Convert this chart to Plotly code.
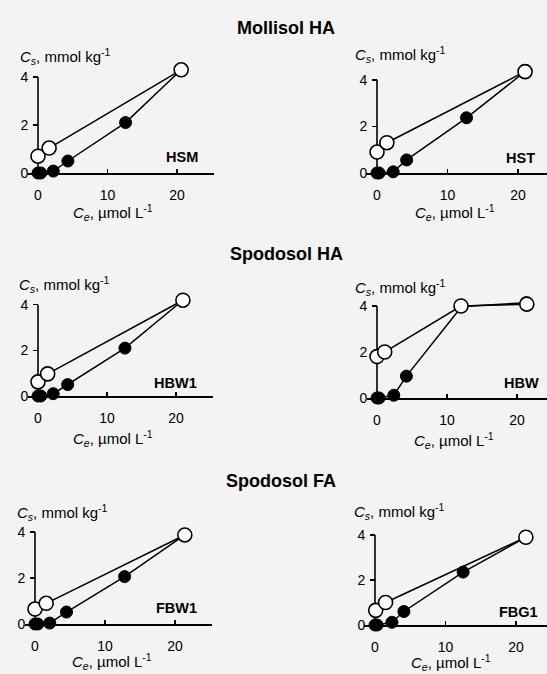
import plotly.graph_objects as go

W, H = 547, 674

# ---------------- data ----------------
group_titles = ["Mollisol HA", "Spodosol HA", "Spodosol FA"]
panel_names = ["HSM", "HST", "HBW1", "HBW", "FBW1", "FBG1"]

x_ticks = [0, 10, 20]
y_ticks = [0, 2, 4]

# solid circles (line continues to the last, shared point)
HSM_solid_x = [0, 0.4, 2.2, 4.3, 12.6, 20.6]
HSM_solid_y = [0, 0, 0.08, 0.5, 2.1, 4.3]
HSM_open_x = [0, 1.6, 20.6]
HSM_open_y = [0.7, 1.04, 4.3]

HST_solid_x = [0, 0.3, 2.3, 4.2, 12.7, 21.0]
HST_solid_y = [0, 0, 0.05, 0.56, 2.37, 4.35]
HST_open_x = [0, 1.4, 21.0]
HST_open_y = [0.9, 1.3, 4.35]

HBW1_solid_x = [0, 0.4, 2.2, 4.3, 12.6, 21.0]
HBW1_solid_y = [0, 0, 0.1, 0.5, 2.1, 4.2]
HBW1_open_x = [0, 1.4, 21.0]
HBW1_open_y = [0.62, 0.97, 4.2]

HBW_solid_x = [0, 0.3, 2.4, 4.2, 12.1, 21.3]
HBW_solid_y = [0, 0, 0.12, 0.95, 3.98, 4.14]
HBW_open_x = [0, 1.1, 12.0, 21.4]
HBW_open_y = [1.8, 2.0, 4.0, 4.08]

FBW1_solid_x = [0, 0.4, 2.1, 4.5, 12.8, 21.4]
FBW1_solid_y = [0, 0, 0.04, 0.52, 2.06, 3.87]
FBW1_open_x = [0, 1.6, 21.4]
FBW1_open_y = [0.65, 0.9, 3.87]

FBG1_solid_x = [0, 0.3, 2.4, 4.1, 12.5, 21.4]
FBG1_solid_y = [0, 0, 0.12, 0.6, 2.35, 3.9]
FBG1_open_x = [0.1, 1.5, 21.4]
FBG1_open_y = [0.65, 1.0, 3.9]

solid_x = [HSM_solid_x, HST_solid_x, HBW1_solid_x, HBW_solid_x, FBW1_solid_x, FBG1_solid_x]
solid_y = [HSM_solid_y, HST_solid_y, HBW1_solid_y, HBW_solid_y, FBW1_solid_y, FBG1_solid_y]
open_x = [HSM_open_x, HST_open_x, HBW1_open_x, HBW_open_x, FBW1_open_x, FBG1_open_x]
open_y = [HSM_open_y, HST_open_y, HBW1_open_y, HBW_open_y, FBW1_open_y, FBG1_open_y]

# ---------------- layout geometry (pixels) ----------------
XMIN, YMIN, YMAX = -1.5, -0.5, 4.6
# ax0: pixel x of data x=0, sx px/unit ; ay0: pixel y of data y=0, sy px/unit
geom = [
    dict(ax0=38, sx=6.95, ay0=173, sy=24.0, xmax=25.3),
    dict(ax0=377, sx=7.05, ay0=173, sy=23.3, xmax=None),
    dict(ax0=38, sx=6.9, ay0=396, sy=22.8, xmax=25.3),
    dict(ax0=377, sx=7.0, ay0=398, sy=23.0, xmax=None),
    dict(ax0=35, sx=7.0, ay0=624, sy=23.0, xmax=25.3),
    dict(ax0=375, sx=7.05, ay0=625, sy=22.5, xmax=None),
]
ytitle_pos = [(18, 57), (353, 55), (17, 284), (353, 287), (15, 512), (352, 511)]
xtitle_pos = [(113, 212), (455, 213), (113, 438), (454, 440), (112, 661), (451, 662)]
label_pos = [(200, 157), (537, 158), (199, 383), (541, 383), (199, 608), (540, 612)]
group_pos = [(286, 28), (286, 254), (281, 481)]

FONT = "Liberation Sans, Arial, Helvetica, sans-serif"

fig = go.Figure()
layout = dict(
    width=W, height=H, margin=dict(l=0, r=0, t=0, b=0),
    paper_bgcolor="#f3f3f3", plot_bgcolor="rgba(0,0,0,0)",
    showlegend=False, font=dict(family=FONT, color="black"),
)
annotations = []
shapes = []

def px2fx(x):
    return x / W

def px2fy(y):
    return 1 - y / H

for i in range(6):
    g = geom[i]
    xmax = g["xmax"] if g["xmax"] is not None else (W - g["ax0"]) / g["sx"]
    left = g["ax0"] + XMIN * g["sx"]
    right = g["ax0"] + xmax * g["sx"]
    top = g["ay0"] - YMAX * g["sy"]
    bottom = g["ay0"] - YMIN * g["sy"]
    n = "" if i == 0 else str(i + 1)
    xa, ya = "xaxis" + n, "yaxis" + n
    xr, yr = "x" + n, "y" + n
    layout[xa] = dict(
        domain=[px2fx(left), min(1.0, px2fx(right))], range=[XMIN, xmax],
        anchor="free", position=px2fy(g["ay0"]),
        showline=True, linecolor="black", linewidth=1.6,
        showgrid=False, zeroline=False,
        tickvals=x_ticks, ticktext=[str(v) for v in x_ticks],
        ticks="inside", ticklen=4, tickwidth=1.4, tickcolor="black",
        ticklabelstandoff=9,
        tickfont=dict(size=14, family=FONT, color="black"),
        layer="below traces", fixedrange=True,
    )
    layout[ya] = dict(
        domain=[px2fy(bottom), px2fy(top)], range=[YMIN, YMAX],
        anchor="free", position=px2fx(g["ax0"]),
        showline=False, showgrid=False, zeroline=False,
        tickvals=y_ticks, ticktext=[str(v) for v in y_ticks],
        ticks="outside", ticklen=5, tickwidth=1.4, tickcolor="black",
        ticklabelstandoff=2,
        tickfont=dict(size=14, family=FONT, color="black"),
        layer="below traces", fixedrange=True,
    )
    # vertical axis line from first to last y tick
    shapes.append(dict(type="line", xref=xr, yref=yr, x0=0, x1=0,
                       y0=y_ticks[0], y1=y_ticks[-1],
                       line=dict(color="black", width=1.6), layer="below"))

    fig.add_trace(go.Scatter(
        x=solid_x[i], y=solid_y[i], xaxis=xr, yaxis=yr, mode="lines+markers",
        line=dict(color="black", width=1.5),
        marker=dict(size=12, color="black", line=dict(color="black", width=1)),
        cliponaxis=False))
    fig.add_trace(go.Scatter(
        x=open_x[i], y=open_y[i], xaxis=xr, yaxis=yr, mode="lines+markers",
        line=dict(color="black", width=1.5),
        marker=dict(size=14, color="white", line=dict(color="black", width=1.6)),
        cliponaxis=False))

    tx, ty = ytitle_pos[i]
    annotations.append(dict(
        text="<i>C</i><sub><i>s</i></sub>, mmol kg<sup>-1</sup>",
        xref="paper", yref="paper", x=px2fx(tx), y=px2fy(ty),
        xanchor="left", yanchor="middle", showarrow=False,
        font=dict(size=15, family=FONT, color="black")))
    tx, ty = xtitle_pos[i]
    annotations.append(dict(
        text="<i>C</i><sub><i>e</i></sub>, µmol L<sup>-1</sup>",
        xref="paper", yref="paper", x=px2fx(tx), y=px2fy(ty),
        xanchor="center", yanchor="middle", showarrow=False,
        font=dict(size=15, family=FONT, color="black")))
    tx, ty = label_pos[i]
    annotations.append(dict(
        text="<b>%s</b>" % panel_names[i],
        xref="paper", yref="paper", x=px2fx(tx), y=px2fy(ty),
        xanchor="right", yanchor="middle", showarrow=False,
        font=dict(size=14.5, family=FONT, color="black")))

for j, t in enumerate(group_titles):
    tx, ty = group_pos[j]
    annotations.append(dict(
        text="<b>%s</b>" % t, xref="paper", yref="paper",
        x=px2fx(tx), y=px2fy(ty), xanchor="center", yanchor="middle",
        showarrow=False, font=dict(size=18, family=FONT, color="black")))

layout["annotations"] = annotations
layout["shapes"] = shapes
fig.update_layout(**layout)
fig.write_html(
    "out.html",
    config={"displayModeBar": False, "staticPlot": True},
    post_script="document.body.style.margin='0px';document.body.style.overflow='hidden';",
)
